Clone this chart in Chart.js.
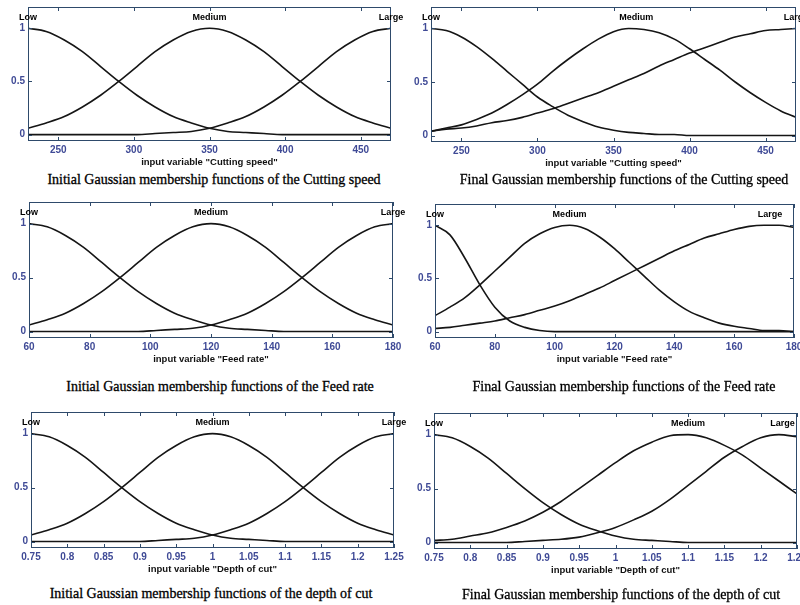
<!DOCTYPE html>
<html>
<head>
<meta charset="UTF-8">
<title>Gaussian membership functions</title>
<script src="https://cdn.jsdelivr.net/npm/chart.js@4.4.0/dist/chart.umd.min.js"></script>
<style>
  body { margin: 0; width: 800px; height: 605px; overflow: hidden; background: #fff; position: relative; }
  canvas { position: absolute; }
  .cap {
    position: absolute; white-space: nowrap; transform: translate(-50%, -50%);
    font-family: "Liberation Serif", "Times New Roman", serif; font-size: 14px; color: #000;
    -webkit-text-stroke: 0.3px #000;
  }
</style>
</head>
<body>
<script>
const mfNames = ['Low', 'Medium', 'Large'];
const yTicks = [0, 0.5, 1];

// Cutting speed
const speedTicks = [250, 300, 350, 400, 450];
const speedInitX = [230, 242, 254, 266, 278, 290, 302, 314, 326, 338, 350, 362, 374, 386, 398, 410, 422, 434, 446, 458, 470];
const speedInitLow = [1, 0.97, 0.89, 0.78, 0.64, 0.5, 0.37, 0.26, 0.17, 0.11, 0.06, 0.03, 0.02, 0.01, 0, 0, 0, 0, 0, 0, 0];
const speedInitMedium = [0.06, 0.11, 0.17, 0.26, 0.37, 0.5, 0.64, 0.78, 0.89, 0.97, 1, 0.97, 0.89, 0.78, 0.64, 0.5, 0.37, 0.26, 0.17, 0.11, 0.06];
const speedInitLarge = [0, 0, 0, 0, 0, 0, 0, 0.01, 0.02, 0.03, 0.06, 0.11, 0.17, 0.26, 0.37, 0.5, 0.64, 0.78, 0.89, 0.97, 1];
const speedInitCenters = [230, 350, 470];

const speedFinalX = [230, 240, 250, 260, 270, 280, 290, 300, 310, 320, 330, 340, 350, 360, 370, 380, 390, 400, 410, 420, 430, 440, 450, 460, 470];
const speedFinalLow = [1, 0.98, 0.92, 0.83, 0.72, 0.6, 0.48, 0.36, 0.27, 0.19, 0.13, 0.08, 0.05, 0.03, 0.02, 0.01, 0.01, 0, 0, 0, 0, 0, 0, 0, 0];
const speedFinalMedium = [0.04, 0.07, 0.1, 0.15, 0.21, 0.29, 0.38, 0.48, 0.6, 0.71, 0.81, 0.9, 0.97, 1, 0.99, 0.96, 0.9, 0.81, 0.71, 0.61, 0.5, 0.4, 0.31, 0.23, 0.17];
const speedFinalLarge = [0.04, 0.06, 0.07, 0.09, 0.12, 0.14, 0.17, 0.21, 0.25, 0.3, 0.35, 0.4, 0.46, 0.52, 0.58, 0.65, 0.71, 0.77, 0.82, 0.87, 0.92, 0.95, 0.98, 0.99, 1];
const speedFinalCenters = [230, 365, 470];

// Feed rate
const feedTicks = [60, 80, 100, 120, 140, 160, 180];
const feedInitX = [60, 66, 72, 78, 84, 90, 96, 102, 108, 114, 120, 126, 132, 138, 144, 150, 156, 162, 168, 174, 180];
const feedInitLow = [1, 0.97, 0.89, 0.78, 0.64, 0.5, 0.37, 0.26, 0.17, 0.11, 0.06, 0.03, 0.02, 0.01, 0, 0, 0, 0, 0, 0, 0];
const feedInitMedium = [0.06, 0.11, 0.17, 0.26, 0.37, 0.5, 0.64, 0.78, 0.89, 0.97, 1, 0.97, 0.89, 0.78, 0.64, 0.5, 0.37, 0.26, 0.17, 0.11, 0.06];
const feedInitLarge = [0, 0, 0, 0, 0, 0, 0, 0.01, 0.02, 0.03, 0.06, 0.11, 0.17, 0.26, 0.37, 0.5, 0.64, 0.78, 0.89, 0.97, 1];
const feedInitCenters = [60, 120, 180];

const feedFinalX = [60, 65, 70, 75, 80, 85, 90, 95, 100, 105, 110, 115, 120, 125, 130, 135, 140, 145, 150, 155, 160, 165, 170, 175, 180];
const feedFinalLow = [1, 0.91, 0.69, 0.44, 0.23, 0.1, 0.04, 0.01, 0, 0, 0, 0, 0, 0, 0, 0, 0, 0, 0, 0, 0, 0, 0, 0, 0];
const feedFinalMedium = [0.15, 0.23, 0.32, 0.44, 0.57, 0.7, 0.83, 0.92, 0.98, 1, 0.97, 0.89, 0.78, 0.65, 0.52, 0.39, 0.28, 0.19, 0.13, 0.08, 0.05, 0.03, 0.01, 0.01, 0];
const feedFinalLarge = [0.03, 0.04, 0.06, 0.08, 0.1, 0.13, 0.16, 0.2, 0.24, 0.29, 0.35, 0.41, 0.48, 0.55, 0.62, 0.69, 0.76, 0.82, 0.88, 0.92, 0.96, 0.99, 1, 1, 0.98];
const feedFinalCenters = [60, 105, 172];

// Depth of cut
const depthTicks = [0.75, 0.8, 0.85, 0.9, 0.95, 1, 1.05, 1.1, 1.15, 1.2, 1.25];
const depthX = [0.75, 0.775, 0.8, 0.825, 0.85, 0.875, 0.9, 0.925, 0.95, 0.975, 1, 1.025, 1.05, 1.075, 1.1, 1.125, 1.15, 1.175, 1.2, 1.225, 1.25];
const depthInitLow = [1, 0.97, 0.89, 0.78, 0.64, 0.5, 0.37, 0.26, 0.17, 0.11, 0.06, 0.03, 0.02, 0.01, 0, 0, 0, 0, 0, 0, 0];
const depthInitMedium = [0.06, 0.11, 0.17, 0.26, 0.37, 0.5, 0.64, 0.78, 0.89, 0.97, 1, 0.97, 0.89, 0.78, 0.64, 0.5, 0.37, 0.26, 0.17, 0.11, 0.06];
const depthInitLarge = [0, 0, 0, 0, 0, 0, 0, 0.01, 0.02, 0.03, 0.06, 0.11, 0.17, 0.26, 0.37, 0.5, 0.64, 0.78, 0.89, 0.97, 1];
const depthInitCenters = [0.75, 1, 1.25];

const depthFinalLow = [1, 0.97, 0.89, 0.78, 0.64, 0.5, 0.37, 0.26, 0.17, 0.11, 0.06, 0.03, 0.02, 0.01, 0, 0, 0, 0, 0, 0, 0];
const depthFinalMedium = [0.02, 0.03, 0.06, 0.09, 0.14, 0.2, 0.28, 0.38, 0.5, 0.62, 0.74, 0.85, 0.93, 0.99, 1, 0.97, 0.9, 0.81, 0.69, 0.57, 0.45];
const depthFinalLarge = [0, 0, 0, 0, 0, 0.01, 0.02, 0.03, 0.05, 0.09, 0.14, 0.21, 0.29, 0.4, 0.53, 0.66, 0.79, 0.89, 0.97, 1, 0.98];
const depthFinalCenters = [0.75, 1.1, 1.23];

Chart.defaults.font.family = '"Liberation Sans", Arial, sans-serif';

const tickColor = '#3f4a96';
const frameColor = '#2e4a6b';
const yAxisW = 28, padTop = 10, padRight = 15, xAxisH = 27;

// frame box, inward tick marks and the Low/Medium/Large labels
const frameDeco = {
  id: 'frameDeco',
  afterDatasetsDraw(chart, args, opts) {
    const { ctx, chartArea: a, scales: { x, y } } = chart;
    ctx.save();
    ctx.strokeStyle = frameColor;
    ctx.lineWidth = 1;
    ctx.strokeRect(a.left + 0.5, a.top + 0.5, a.width - 1, a.height - 1);
    ctx.beginPath();
    x.ticks.forEach(t => {
      const px = Math.round(x.getPixelForValue(t.value)) + 0.5;
      ctx.moveTo(px, a.bottom); ctx.lineTo(px, a.bottom - 4);
      ctx.moveTo(px, a.top); ctx.lineTo(px, a.top + 4);
    });
    y.ticks.forEach(t => {
      const py = Math.round(y.getPixelForValue(t.value)) + 0.5;
      ctx.moveTo(a.left, py); ctx.lineTo(a.left + 4, py);
      ctx.moveTo(a.right, py); ctx.lineTo(a.right - 4, py);
    });
    ctx.stroke();
    ctx.fillStyle = '#000';
    ctx.font = 'bold 9px "Liberation Sans", Arial, sans-serif';
    ctx.textAlign = 'center';
    ctx.textBaseline = 'middle';
    opts.centers.forEach((c, i) => {
      ctx.fillText(mfNames[i], x.getPixelForValue(c), y.getPixelForValue(1.1));
    });
    ctx.restore();
  }
};

const panels = [
  { x: speedInitX, sets: [speedInitLow, speedInitMedium, speedInitLarge], centers: speedInitCenters, ticks: speedTicks,
    min: 230, max: 470, title: 'input variable "Cutting speed"', frame: [28, 7, 391, 141],
    caption: 'Initial Gaussian membership functions of the Cutting speed', cap: [214, 180] },
  { x: speedFinalX, sets: [speedFinalLow, speedFinalMedium, speedFinalLarge], centers: speedFinalCenters, ticks: speedTicks,
    min: 230, max: 470, title: 'input variable "Cutting speed"', frame: [431, 7, 796, 142],
    caption: 'Final Gaussian membership functions of the Cutting speed', cap: [624, 180] },
  { x: feedInitX, sets: [feedInitLow, feedInitMedium, feedInitLarge], centers: feedInitCenters, ticks: feedTicks,
    min: 60, max: 180, title: 'input variable "Feed rate"', frame: [29, 202, 393, 338],
    caption: 'Initial Gaussian membership functions of the Feed rate', cap: [220, 387] },
  { x: feedFinalX, sets: [feedFinalLow, feedFinalMedium, feedFinalLarge], centers: feedFinalCenters, ticks: feedTicks,
    min: 60, max: 180, title: 'input variable "Feed rate"', frame: [435, 204, 794, 338],
    caption: 'Final Gaussian membership functions of the Feed rate', cap: [624, 387] },
  { x: depthX, sets: [depthInitLow, depthInitMedium, depthInitLarge], centers: depthInitCenters, ticks: depthTicks,
    min: 0.75, max: 1.25, title: 'input variable "Depth of cut"', frame: [31, 412, 394, 548],
    caption: 'Initial Gaussian membership functions of the depth of cut', cap: [211, 594] },
  { x: depthX, sets: [depthFinalLow, depthFinalMedium, depthFinalLarge], centers: depthFinalCenters, ticks: depthTicks,
    min: 0.75, max: 1.25, title: 'input variable "Depth of cut"', frame: [434, 413, 797, 549],
    caption: 'Final Gaussian membership functions of the depth of cut', cap: [621, 595] }
];

panels.forEach(p => {
  const [L, T, R, B] = p.frame;
  const cv = document.createElement('canvas');
  cv.width = yAxisW + (R - L) + padRight;
  cv.height = padTop + (B - T) + xAxisH;
  cv.style.left = (L - yAxisW) + 'px';
  cv.style.top = (T - padTop) + 'px';
  document.body.appendChild(cv);

  const cap = document.createElement('div');
  cap.className = 'cap';
  cap.textContent = p.caption;
  cap.style.left = p.cap[0] + 'px';
  cap.style.top = p.cap[1] + 'px';
  document.body.appendChild(cap);

  new Chart(cv, {
    type: 'line',
    data: {
      datasets: p.sets.map((vals, i) => ({
        label: mfNames[i],
        data: p.x.map((v, k) => ({ x: v, y: vals[k] })),
        borderColor: '#151515',
        borderWidth: 1.6,
        pointRadius: 0,
        fill: false,
        cubicInterpolationMode: 'monotone'
      }))
    },
    options: {
      responsive: false,
      animation: false,
      events: [],
      layout: { padding: { top: padTop, right: padRight, left: 0, bottom: 0 } },
      plugins: {
        legend: { display: false },
        tooltip: { enabled: false },
        frameDeco: { centers: p.centers }
      },
      scales: {
        x: {
          type: 'linear', min: p.min, max: p.max,
          grid: { display: false, drawTicks: false }, border: { display: false },
          afterBuildTicks: s => { s.ticks = p.ticks.map(v => ({ value: v })); },
          afterFit: s => { s.height = xAxisH; },
          ticks: { color: tickColor, font: { size: 10, weight: 'bold' }, padding: 3, maxRotation: 0, autoSkip: false,
                   callback: v => String(v) },
          title: { display: true, text: p.title, color: '#111', font: { size: 9.5, weight: 'bold' }, padding: 0 }
        },
        y: {
          min: -0.06, max: 1.2,
          grid: { display: false, drawTicks: false }, border: { display: false },
          afterBuildTicks: s => { s.ticks = yTicks.map(v => ({ value: v })); },
          afterFit: s => { s.width = yAxisW; },
          ticks: { color: tickColor, font: { size: 10, weight: 'bold' }, padding: 3, callback: v => String(v) }
        }
      }
    },
    plugins: [frameDeco]
  });
});
</script>
</body>
</html>
